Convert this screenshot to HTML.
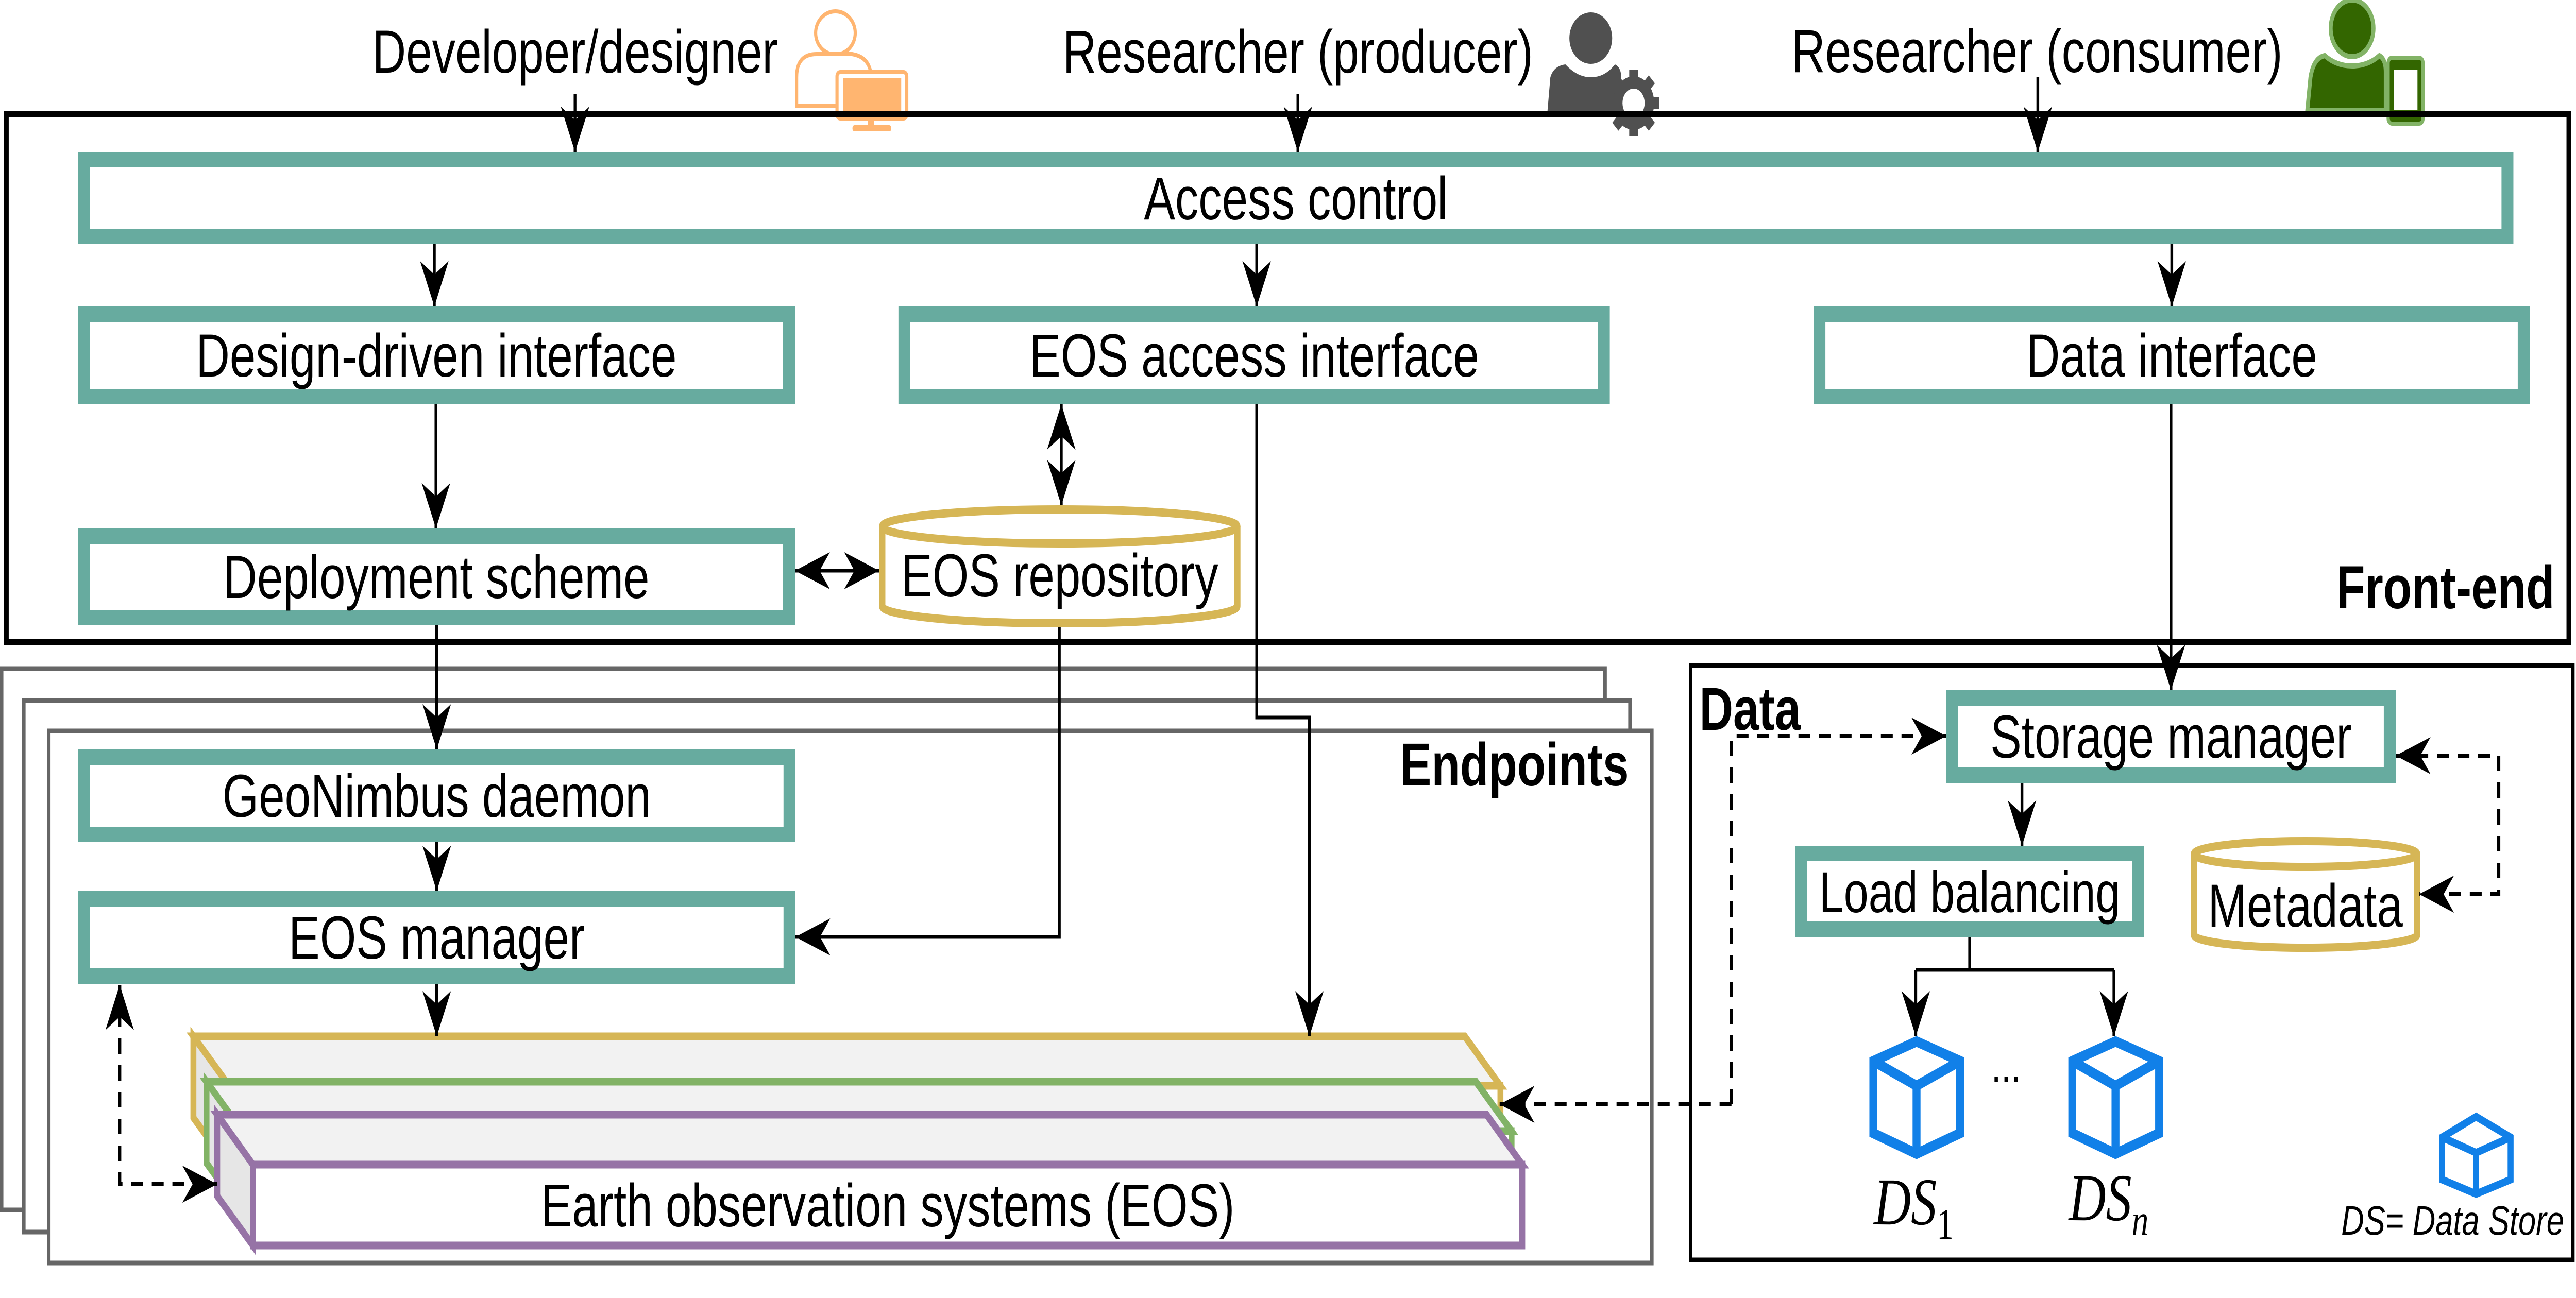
<!DOCTYPE html>
<html><head><meta charset="utf-8"><style>
html,body{margin:0;padding:0;background:#fff;width:100%;height:100%;overflow:hidden;}
svg{display:block;width:100vw;height:100vh;}
</style></head><body>
<svg viewBox="0 0 6500 2520" preserveAspectRatio="none" xmlns="http://www.w3.org/2000/svg" font-family="Liberation Sans, sans-serif">
<defs>
<marker id="a" viewBox="-92 -40 94 80" refX="0" refY="0" markerWidth="94" markerHeight="80" markerUnits="userSpaceOnUse" orient="auto-start-reverse">
<path d="M0,0 L-88,-36 L-62,0 L-88,36 Z" fill="#000"/>
</marker>
</defs>
<rect width="6500" height="2520" fill="#fff"/>

<g font-size="118" fill="#000" text-anchor="middle">
<text x="1451" y="141">Developer/designer</text>
<text x="3275" y="141">Researcher (producer)</text>
<text x="5140" y="140">Researcher (consumer)</text>
</g>

<g>
<ellipse cx="2108" cy="64" rx="50" ry="42" fill="none" stroke="#FFB570" stroke-width="8"/>
<path d="M2010,205 V150 Q2010,105 2060,105 H2150 Q2190,110 2197,140 V205 Z" fill="#fff" stroke="#FFB570" stroke-width="8"/>
<rect x="2112" y="140" width="176" height="90" rx="8" fill="#fff" stroke="#FFB570" stroke-width="8"/>
<rect x="2128" y="152" width="146" height="70" fill="#FFB570"/>
<rect x="2190" y="230" width="16" height="18" fill="#FFB570"/>
<rect x="2151" y="243" width="98" height="12" rx="5" fill="#FFB570"/>
</g>
<g fill="#505050">
<ellipse cx="4014" cy="74" rx="54" ry="50"/>
<path d="M3904,222 L3912,150 Q3920,128 3950,125 Q3980,150 4014,150 Q4050,150 4075,125 Q4090,130 4091,150 L4091,222 Z"/>
<circle cx="4122" cy="200" r="52"/>
<g stroke="#505050" stroke-width="22">
<line x1="4122" y1="135" x2="4122" y2="265"/><line x1="4057" y1="200" x2="4187" y2="200"/>
<line x1="4076" y1="154" x2="4168" y2="246"/><line x1="4168" y1="154" x2="4076" y2="246"/>
</g>
<circle cx="4122" cy="200" r="28" fill="#fff"/>
</g>
<g>
<ellipse cx="5935" cy="55" rx="54" ry="55" fill="#336600" stroke="#82B366" stroke-width="10"/>
<path d="M5822,214 L5830,150 Q5838,112 5866,108 Q5895,128 5935,128 Q5975,128 6004,108 Q6020,115 6020,140 L6020,214 Z" fill="#336600" stroke="#82B366" stroke-width="10"/>
<rect x="6026" y="112" width="88" height="128" rx="10" fill="#336600" stroke="#82B366" stroke-width="8"/>
<rect x="6040" y="135" width="60" height="78" fill="#fff"/>
</g>

<rect x="16" y="222" width="6466" height="1024" fill="none" stroke="#000" stroke-width="12"/>
<text x="6446" y="1181" font-size="118" font-weight="bold" text-anchor="end">Front-end</text>

<g fill="#fff" stroke="#67AB9F" stroke-width="30">
<rect x="212" y="310" width="6115" height="149"/>
<rect x="212" y="610" width="1779" height="160"/>
<rect x="2282" y="610" width="1765" height="160"/>
<rect x="4591" y="610" width="1777" height="160"/>
<rect x="212" y="1041" width="1779" height="158"/>
</g>
<g font-size="118" text-anchor="middle">
<text x="3270" y="426">Access control</text>
<text x="1101" y="731">Design-driven interface</text>
<text x="3165" y="731">EOS access interface</text>
<text x="5480" y="731">Data interface</text>
<text x="1101" y="1161">Deployment scheme</text>
</g>

<g fill="#fff" stroke="#D6B656" stroke-width="16">
<path d="M2226,1022 A448,33 0 0 1 3122,1022 V1177 A448,33 0 0 1 2226,1177 Z"/>
<path d="M2226,1022 A448,33 0 0 0 3122,1022" fill="none"/>
</g>
<text x="2674" y="1158" font-size="118" text-anchor="middle">EOS repository</text>

<g fill="#fff" stroke="#666" stroke-width="9">
<rect x="4" y="1298" width="4046" height="1051"/>
<rect x="60" y="1360" width="4053" height="1032"/>
<rect x="123" y="1419" width="4045" height="1033"/>
</g>
<text x="4110" y="1525" font-size="118" font-weight="bold" text-anchor="end">Endpoints</text>
<g fill="#fff" stroke="#67AB9F" stroke-width="30">
<rect x="212" y="1470" width="1780" height="150"/>
<rect x="212" y="1745" width="1780" height="150"/>
</g>
<g font-size="118" text-anchor="middle">
<text x="1102" y="1586">GeoNimbus daemon</text>
<text x="1102" y="1861">EOS manager</text>
</g>

<g stroke-width="15" stroke-linejoin="miter">
<g stroke="#D6B656">
<polygon points="488,2012 3696,2012 3786,2108 578,2108" fill="#f2f2f2"/>
<polygon points="488,2012 578,2108 578,2266 488,2170" fill="#e6e6e6"/>
<rect x="578" y="2108" width="3208" height="158" fill="#fff"/>
</g>
<g stroke="#82B366">
<polygon points="521,2100 3724,2100 3814,2196 611,2196" fill="#f2f2f2"/>
<polygon points="521,2100 611,2196 611,2354 521,2258" fill="#e6e6e6"/>
<rect x="611" y="2196" width="3203" height="158" fill="#fff"/>
</g>
<g stroke="#9673A6">
<polygon points="548,2164 3751,2164 3841,2261 638,2261" fill="#f2f2f2"/>
<polygon points="548,2164 638,2261 638,2418 548,2322" fill="#e6e6e6"/>
<rect x="638" y="2261" width="3203" height="157" fill="#fff"/>
</g>
</g>
<text x="2240" y="2381" font-size="118" text-anchor="middle">Earth observation systems (EOS)</text>

<rect x="4266" y="1292" width="2226" height="1154" fill="none" stroke="#000" stroke-width="9"/>
<text x="4288" y="1417" font-size="118" font-weight="bold">Data</text>
<g fill="#fff" stroke="#67AB9F" stroke-width="30">
<rect x="4926" y="1355" width="1104" height="150"/>
<rect x="4545" y="1657" width="850" height="147"/>
</g>
<g font-size="118" text-anchor="middle">
<text x="5478" y="1471">Storage manager</text>
<text x="4970" y="1771" font-size="112">Load balancing</text>
</g>
<g fill="#fff" stroke="#D6B656" stroke-width="16">
<path d="M5536,1658 A281,25 0 0 1 6099,1658 V1815 A281,25 0 0 1 5536,1815 Z"/>
<path d="M5536,1658 A281,25 0 0 0 6099,1658" fill="none"/>
</g>
<text x="5817" y="1799" font-size="118" text-anchor="middle">Metadata</text>

<g fill="none" stroke="#1180E8" stroke-width="20" stroke-linejoin="miter">
<path d="M4836,2022 L4946,2060 V2200 L4836,2240 L4727,2200 V2060 Z M4727,2060 L4836,2108 L4946,2060 M4836,2108 V2240"/>
<path d="M5338,2022 L5448,2060 V2200 L5338,2240 L5229,2200 V2060 Z M5229,2060 L5338,2108 L5448,2060 M5338,2108 V2240"/>
</g>
<g fill="none" stroke="#1180E8" stroke-width="15">
<path d="M6248,2168 L6335,2208 V2290 L6248,2318 L6162,2290 V2208 Z M6162,2208 L6248,2238 L6335,2208 M6248,2238 V2318"/>
</g>
<text x="5062" y="2100" font-size="90" text-anchor="middle">...</text>
<g style="font-family:'Liberation Serif',serif;font-style:italic" font-size="130">
<text x="4728" y="2377">DS<tspan style="font-style:normal" font-size="85" dy="28">1</tspan></text>
<text x="5220" y="2369">DS<tspan font-size="85" dy="28">n</tspan></text>
</g>
<text x="6470" y="2397" font-size="80" font-style="italic" text-anchor="end">DS= Data Store</text>

<g fill="none" stroke="#000" stroke-width="7">
<path d="M1451,182 V295" marker-end="url(#a)"/>
<path d="M3275,182 V295" marker-end="url(#a)"/>
<path d="M5142,150 V295" marker-end="url(#a)"/>
<path d="M1096,474 V595" marker-end="url(#a)"/>
<path d="M3171,474 V595" marker-end="url(#a)"/>
<path d="M5480,474 V595" marker-end="url(#a)"/>
<path d="M1100,785 V1026" marker-end="url(#a)"/>
<path d="M2678,785 V981" marker-start="url(#a)" marker-end="url(#a)"/>
<path d="M2006,1108 H2218" marker-start="url(#a)" marker-end="url(#a)"/>
<path d="M1102,1214 V1455" marker-end="url(#a)"/>
<path d="M1102,1635 V1730" marker-end="url(#a)"/>
<path d="M1102,1910 V2012" marker-end="url(#a)"/>
<path d="M2673,1218 V1819 H2007" marker-end="url(#a)"/>
<path d="M3171,785 V1393 H3304 V2012" marker-end="url(#a)"/>
<path d="M5478,785 V1340" marker-end="url(#a)"/>
<path d="M5102,1520 V1642" marker-end="url(#a)"/>
<path d="M4970,1819 V1883"/>
<path d="M4834,1883 H5334"/>
<path d="M4834,1883 V2012" marker-end="url(#a)"/>
<path d="M5334,1883 V2012" marker-end="url(#a)"/>
</g>
<g fill="none" stroke="#000" stroke-width="8" stroke-dasharray="30 22">
<path d="M4369,2144 V1429 H4911" marker-end="url(#a)"/>
<path d="M4369,2144 H3784" marker-end="url(#a)"/>
<path d="M6045,1467 H6305 V1736 H6104" marker-start="url(#a)" marker-end="url(#a)"/>
<path d="M302,1912 V2299 H548" marker-start="url(#a)" marker-end="url(#a)"/>
</g>
</svg>
</body></html>
